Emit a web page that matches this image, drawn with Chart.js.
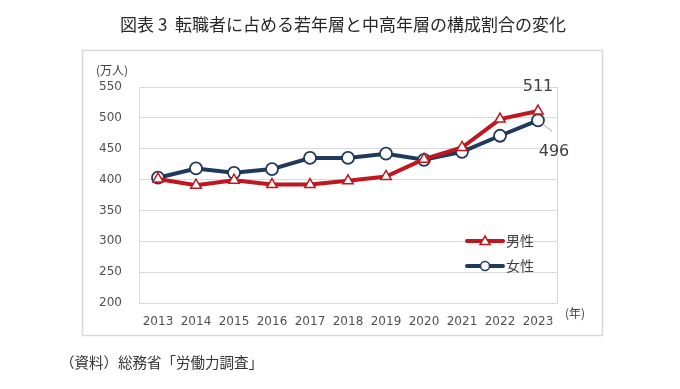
<!DOCTYPE html>
<html><head><meta charset="utf-8">
<script src="https://cdn.jsdelivr.net/npm/chart.js@4.4.1/dist/chart.umd.min.js"></script>
<style>html,body{margin:0;padding:0;background:#fff;}#wrap{width:680px;height:389px;position:relative;}</style>
</head><body><div id="wrap"><canvas id="c" width="680" height="389"></canvas></div>
<script>
const years = ['2013','2014','2015','2016','2017','2018','2019','2020','2021','2022','2023'];
const men = [401, 391, 399, 392, 392, 398, 405, 433, 452, 498, 511];
const women = [403, 418, 411, 417, 435, 435, 442, 432, 445, 471, 496];
const seriesNames = ['男性', '女性'];
const yTicks = [200, 250, 300, 350, 400, 450, 500, 550];
const titleText = '図表 3  転職者に占める若年層と中高年層の構成割合の変化';
const sourceText = '（資料）総務省「労働力調査」';

const RED = '#C0161E', NAVY = '#1F3A5C';
const JP = '"Noto Sans CJK JP", "Noto Sans", sans-serif';
const NUM = '"DejaVu Sans", Verdana, sans-serif';

const deco = {
  id: 'deco',
  beforeDraw(chart) {
    const ctx = chart.ctx, a = chart.chartArea;
    ctx.save();
    ctx.fillStyle = '#fff'; ctx.fillRect(0,0,chart.width,chart.height);
    ctx.strokeStyle = '#D9D9D9'; ctx.lineWidth = 1.5;
    ctx.strokeRect(82.5, 50.5, 520, 285);
    ctx.lineWidth = 1;
    ctx.strokeRect(Math.round(a.left)+0.5, Math.round(a.top)+0.5, Math.round(a.right-a.left), Math.round(a.bottom-a.top));
    ctx.restore();
  },
  afterDraw(chart) {
    const ctx = chart.ctx, x = chart.scales.x, y = chart.scales.y;
    ctx.save();
    ctx.fillStyle = '#262626';
    ctx.font = '400 17px ' + JP; ctx.textAlign = 'center'; ctx.textBaseline = 'middle';
    ctx.fillText(titleText, 343, 25);
    ctx.fillStyle = '#404040';
    ctx.font = '12px ' + JP; ctx.textAlign = 'left';
    ctx.fillText('(万人)', 96, 70);
    ctx.fillText('(年)', 565, 313);
    ctx.font = '14.5px ' + JP; ctx.fillStyle = '#333';
    ctx.fillText(sourceText, 60, 362);
    // data labels
    const last = years.length - 1;
    const px = x.getPixelForValue(last);
    ctx.font = '16px ' + NUM; ctx.fillStyle = '#404040'; ctx.textAlign = 'center';
    ctx.fillText(String(men[last]), px, y.getPixelForValue(men[last]) - 24);
    const wy = y.getPixelForValue(women[last]);
    ctx.strokeStyle = '#A6A6A6'; ctx.lineWidth = 1;
    ctx.beginPath(); ctx.moveTo(px + 4, wy + 3); ctx.lineTo(px + 14, wy + 11); ctx.stroke();
    ctx.fillText(String(women[last]), px + 16, wy + 32);
    // legend
    const items = [[seriesNames[0], RED, 'triangle', 241], [seriesNames[1], NAVY, 'circle', 266]];
    items.forEach(([name, col, shape, ly]) => {
      ctx.strokeStyle = col; ctx.lineWidth = 4; ctx.lineCap = 'round';
      ctx.beginPath(); ctx.moveTo(467, ly); ctx.lineTo(503, ly); ctx.stroke();
      ctx.lineWidth = 1.5; ctx.fillStyle = '#fff';
      ctx.beginPath();
      if (shape === 'circle') { ctx.arc(485, ly, 4.5, 0, Math.PI*2); }
      else { ctx.moveTo(485, ly-5); ctx.lineTo(490, ly+3.5); ctx.lineTo(480, ly+3.5); ctx.closePath(); }
      ctx.fill(); ctx.stroke();
      ctx.fillStyle = '#404040'; ctx.font = '14px ' + JP; ctx.textAlign = 'left';
      ctx.fillText(name, 506, ly);
    });
    ctx.restore();
  }
};

new Chart(document.getElementById('c'), {
  type: 'line',
  data: {
    labels: years,
    datasets: [
      { label: seriesNames[1], data: women, borderColor: NAVY, backgroundColor: '#fff', borderWidth: 4,
        pointStyle: 'circle', pointRadius: 6, pointBorderWidth: 1.8, pointBackgroundColor: '#fff', pointBorderColor: NAVY, tension: 0, order: 2 },
      { label: seriesNames[0], data: men, borderColor: RED, backgroundColor: '#fff', borderWidth: 4,
        pointStyle: 'triangle', pointRadius: 6, pointBorderWidth: 1.5, pointBackgroundColor: '#fff', pointBorderColor: RED, tension: 0, order: 1 }
    ]
  },
  options: {
    responsive: false, animation: false, devicePixelRatio: 1,
    layout: { padding: { left: 82, right: 123, top: 87, bottom: 56 } },
    plugins: { legend: { display: false }, tooltip: { enabled: false }, title: { display: false } },
    scales: {
      x: {
        offset: true,
        grid: { display: false, drawTicks: false },
        border: { display: false },
        ticks: { color: '#505050', font: { family: NUM, size: 12 }, padding: 12, maxRotation: 0, autoSkip: false },
        afterFit(s) { s.height = 30; }
      },
      y: {
        min: 200, max: 550,
        afterBuildTicks(s) { s.ticks = yTicks.map(v => ({ value: v })); },
        grid: { color: '#D9D9D9', lineWidth: 1, drawTicks: false },
        border: { display: false },
        ticks: { color: '#505050', font: { family: NUM, size: 12 }, padding: 17 },
        afterFit(s) { s.width = 57; }
      }
    }
  },
  plugins: [deco]
});
</script></body></html>
